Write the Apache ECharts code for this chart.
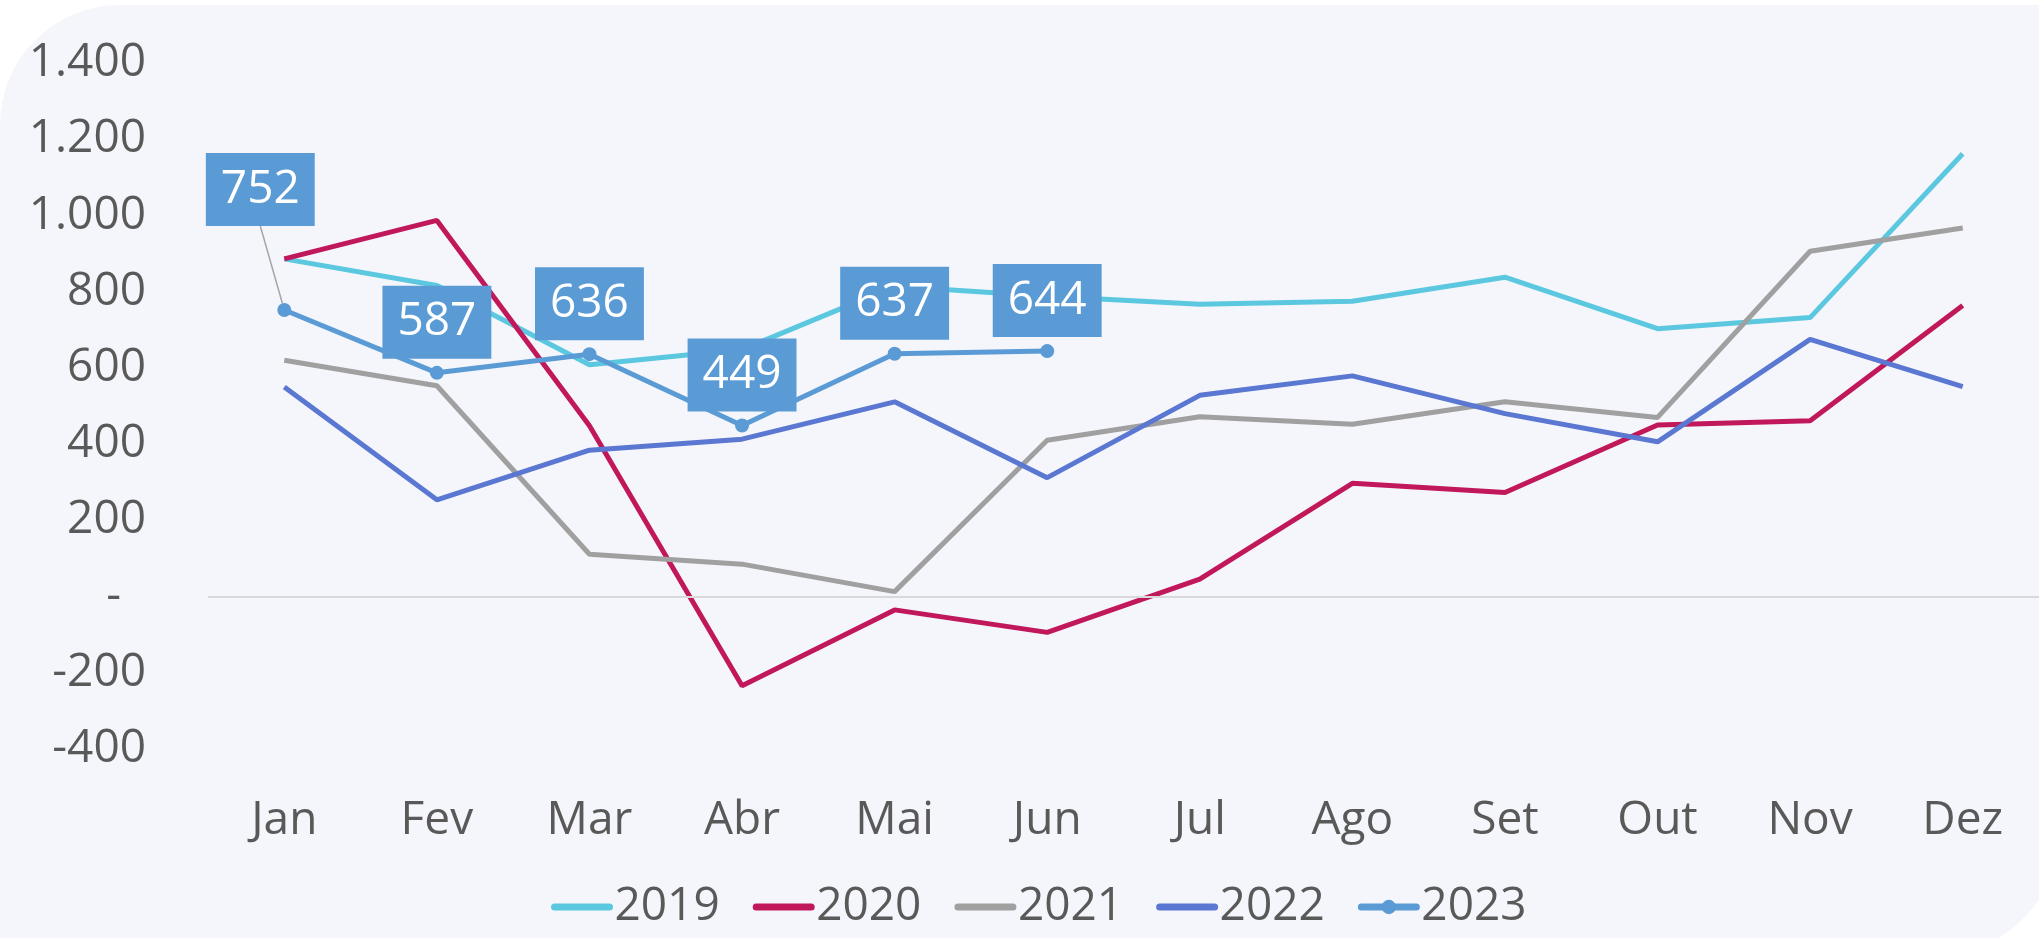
<!DOCTYPE html>
<html>
<head>
<meta charset="utf-8">
<script src="https://cdn.jsdelivr.net/npm/echarts@6/dist/echarts.min.js"></script>
<style>
html,body{margin:0;padding:0;background:#ffffff;}
#chart{width:2039px;height:938px;}
</style>
</head>
<body>
<div id="chart"></div>
<script>
const months = ['Jan','Fev','Mar','Abr','Mai','Jun','Jul','Ago','Set','Out','Nov','Dez'];
const s2019 = [886, 816, 608, 648, 814, 788, 767, 775, 838, 703, 732, 1162];
const s2020 = [886, 987, 448, -234, -35, -94, 46, 297, 273, 450, 461, 764];
const s2021 = [620, 553, 111, 85, 13, 410, 472, 452, 511, 470, 906, 967];
const s2022 = [550, 254, 384, 413, 511, 312, 528, 579, 480, 406, 675, 551];
const s2023 = [752, 587, 636, 449, 637, 644];
const yTicks = {min: -400, max: 1400, interval: 200};

const FONT = 'Open Sans';
const TXT = '#595959';

function fmt(v){
  if (v === 0) return '{z|-}';
  const neg = v < 0; let a = Math.abs(v).toString();
  a = a.replace(/\B(?=(\d{3})+(?!\d))/g, '.');
  return (neg ? '-' : '') + a;
}

const chart = echarts.init(document.getElementById('chart'), null, {renderer:'canvas'});
const lineSeries = (name, data, color) => ({
  name, type:'line', data, symbol:'none', showSymbol:false,
  lineStyle:{color, width:5}, itemStyle:{color},
  emphasis:{disabled:true}, silent:true
});

const d2023 = s2023.map((v,i)=> i===0 ? {value:v, labelLine:{show:true, lineStyle:{color:'#A6A6A6', width:1.5}}} : v);

const option = {
  animation:false,
  backgroundColor:'transparent',
  graphic:[{
    type:'rect', z:-10, silent:true,
    shape:{x:0, y:5, width:2060, height:950, r:[120,0,125,0]},
    style:{fill:'#F5F6FB'}
  }],
  textStyle:{fontFamily:FONT},
  grid:{left:208, right:0, top:63, bottom:189, containLabel:false},
  legend:{
    left:546, top:879, itemWidth:55, itemHeight:18, itemGap:33,
    textStyle:{fontFamily:FONT, fontSize:46, color:TXT},
    lineStyle:{width:7, cap:'round'},
    data:[
      {name:'2019', itemStyle:{opacity:0}},
      {name:'2020', itemStyle:{opacity:0}},
      {name:'2021', itemStyle:{opacity:0}},
      {name:'2022', itemStyle:{opacity:0}},
      {name:'2023'}
    ]
  },
  xAxis:{
    type:'category', data:months, boundaryGap:true,
    axisLine:{show:false}, axisTick:{show:false}, splitLine:{show:false},
    axisLabel:{fontFamily:FONT, fontSize:46, color:TXT, margin:49}
  },
  yAxis:{
    type:'value', min:yTicks.min, max:yTicks.max, interval:yTicks.interval,
    axisLine:{show:false}, axisTick:{show:false}, splitLine:{show:false},
    axisLabel:{fontFamily:FONT, fontSize:46, color:TXT, margin:62, formatter:fmt,
      rich:{z:{fontFamily:FONT, fontSize:46, color:TXT, padding:[0,25,0,0]}}}
  },
  series:[
    Object.assign(lineSeries('2019', s2019, '#5BC8E0'), {
      markLine:{silent:true, symbol:'none', label:{show:false},
        lineStyle:{color:'#D9D9D9', width:2, type:'solid'},
        data:[{yAxis:0}]}
    }),
    lineSeries('2020', s2020, '#C0185A'),
    lineSeries('2021', s2021, '#A0A0A0'),
    lineSeries('2022', s2022, '#5A77D1'),
    {
      name:'2023', type:'line', data:d2023, symbol:'circle', symbolSize:14, showSymbol:true,
      lineStyle:{color:'#5B9BD5', width:5}, itemStyle:{color:'#5B9BD5'},
      emphasis:{disabled:true}, silent:true, z:5,
      label:{show:true, position:'top', distance:7,
        fontFamily:FONT, fontSize:46, color:'#ffffff', lineHeight:47,
        backgroundColor:'#5B9BD5', padding:[13,15,13,15]},
      labelLine:{show:false},
      labelLayout:function(p){ return p.dataIndex===0 ? {dx:-24, dy:-70} : {}; }
    }
  ]
};
chart.setOption(option);
</script>
</body>
</html>
